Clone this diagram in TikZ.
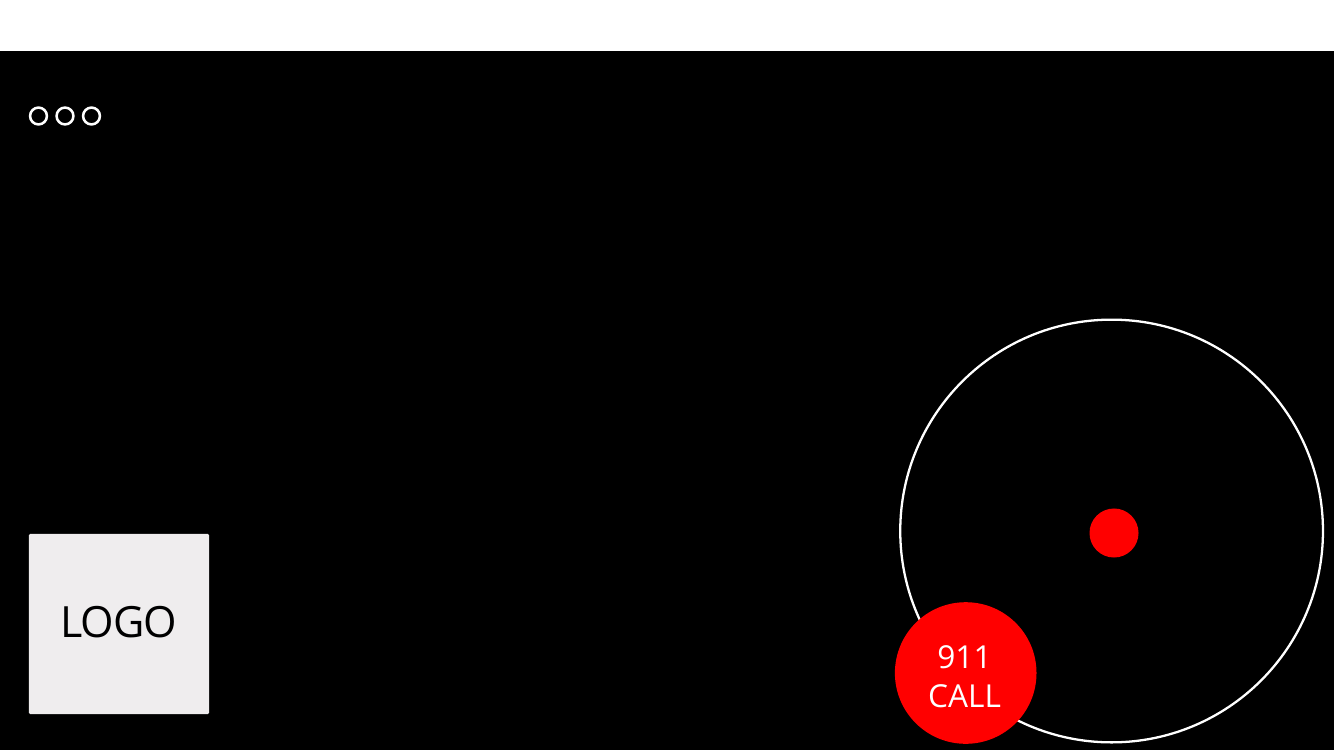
\documentclass[tikz,border=0pt]{standalone}
\usepackage{fontspec}
\usepackage{xcolor}
\setmainfont{Open Sans}
\usetikzlibrary{positioning}
\definecolor{logogray}{RGB}{239,237,238}
\definecolor{callred}{RGB}{255,0,0}
\tikzset{
  dotbtn/.style={circle, draw=white, line width=1.45pt, minimum size=9.6pt, inner sep=0pt},
  reddot/.style={circle, fill=callred, inner sep=0pt}
}

\begin{document}
\begin{tikzpicture}[x=0.02cm, y=-0.02cm]
    \useasboundingbox (0,0) rectangle (1334,750);
    \fill[white] (0,0) rectangle (1334,750);
    \fill[black] (0,51) rectangle (1334,750);

    \node[dotbtn] (A) at (38.5,116) {};
    \node[dotbtn] (B) at (65,116) {};
    \node[dotbtn] (C) at (91.5,116) {};

    \node[fill=logogray, rounded corners=0.8pt, minimum size=102.6pt, inner sep=0pt] (logo) at (119,624) {};
    \node[font=\fontsize{24.5}{30}\selectfont\addfontfeature{LetterSpace=-2.5}, inner sep=0pt] (logotext) at (118.5,622.5) {LOGO};

    \node[circle, draw=white, line width=1.3pt, minimum size=240.6pt, inner sep=0pt] (ring) at (1111.6,531) {};
    \node[reddot, minimum size=27.9pt] (center) at (1114,533) {};
    \node[reddot, minimum size=80.6pt] (call) at (965.7,673) {};
    \node[text=white, align=center, inner sep=0pt,
          font=\fontsize{18}{22}\selectfont] (calltext) at (964.5,677) {911\\CALL};
\end{tikzpicture}
\end{document}
